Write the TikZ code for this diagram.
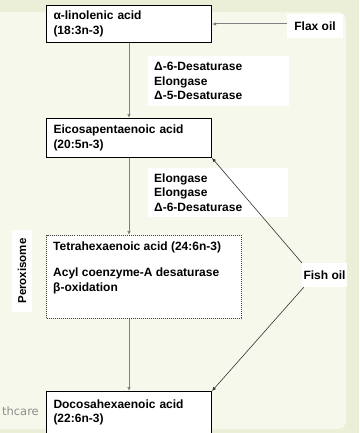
\documentclass[tikz,border=0pt]{standalone}
\usepackage{fontspec}
\setmainfont{Liberation Sans}
\newfontfamily\wmfont{DejaVu Sans}
\usetikzlibrary{arrows.meta}
\definecolor{outerbg}{HTML}{ECEFD8}
\definecolor{panelbg}{HTML}{F6F8EC}
\definecolor{linegray}{HTML}{808080}
\definecolor{wmgray}{HTML}{8E8E8E}
\begin{document}
\begin{tikzpicture}[x=1pt,y=-1pt,
  font=\bfseries\fontsize{12}{14.5}\selectfont,
  acid/.style={draw=black, line width=1pt, fill=white, minimum width=165pt,
    text width=151pt, align=left, inner xsep=7pt, inner ysep=0pt, anchor=north west},
  enz/.style={fill=white, inner ysep=0pt, inner xsep=6pt, align=left, anchor=north west},
  oil/.style={fill=white, inner sep=0pt},
  vline/.style={draw=linegray, line width=1pt, -{Latex[length=4pt,width=3.5pt]}},
  dline/.style={draw=black!80, line width=0.6pt, -{Latex[length=4pt,width=3.5pt]}}]
\useasboundingbox (0,0) rectangle (359,433);
\fill[outerbg] (0,0) rectangle (359,433);
\fill[panelbg, rounded corners=8pt] (-20,12) rectangle (346,429);
% watermark
\node[font=\wmfont\fontsize{11.5}{13}\selectfont, text=wmgray, anchor=east, inner sep=0pt] (wm) at (39,411) {thcare};
% acid boxes
\node[acid, minimum height=37pt] (ala) at (46,5) {α-linolenic acid\\(18:3n-3)};
\node[acid, minimum height=39pt] (epa) at (46,118) {Eicosapentaenoic acid\\(20:5n-3)};
\node[acid, minimum height=42pt] (dha) at (46,391) {Docosahexaenoic acid\\(22:6n-3)};
\node[draw=black!75, densely dotted, line width=1pt, fill=white, minimum width=195pt,
  minimum height=83pt, anchor=north west, inner sep=0pt] (tetra) at (46,235) {};
\node[anchor=north west, inner sep=0pt, align=left] (tetratext) at (53,242)
  {Tetrahexaenoic acid (24:6n-3)\\[11.5pt]Acyl coenzyme-A desaturase\\β-oxidation};
% enzyme labels
\node[enz, minimum width=141pt, minimum height=50pt, text width=129pt] (enz1) at (148,56)
  {Δ-6-Desaturase\\Elongase\\Δ-5-Desaturase};
\node[enz, minimum width=140pt, minimum height=49pt, text width=128pt] (enz2) at (148,168)
  {Elongase\\Elongase\\Δ-6-Desaturase};
% peroxisome
\node[fill=white, rotate=90, minimum width=82pt, minimum height=20pt, inner sep=0pt,
  font=\bfseries\fontsize{11.5}{13}\selectfont] (perox) at (22,271) {Peroxisome};
% oils
\node[oil, minimum width=56pt, minimum height=24pt] (flax) at (315,26) {Flax oil};
\node[oil, minimum width=45pt, minimum height=24pt] (fish) at (324.5,275) {Fish oil};
% connectors
\draw[vline] (flax.west |- ala.east) -- (ala.east);
\draw[vline] (ala.south) -- (epa.north);
\draw[vline] (epa.south) -- (epa.south |- tetra.north);
\draw[vline] (tetra.south -| dha.north) -- (dha.north);
\draw[dline] (fish.north west) -- (epa.south east);
\draw[dline] ([xshift=2pt]fish.south west) -- (dha.north east);
\end{tikzpicture}
\end{document}
